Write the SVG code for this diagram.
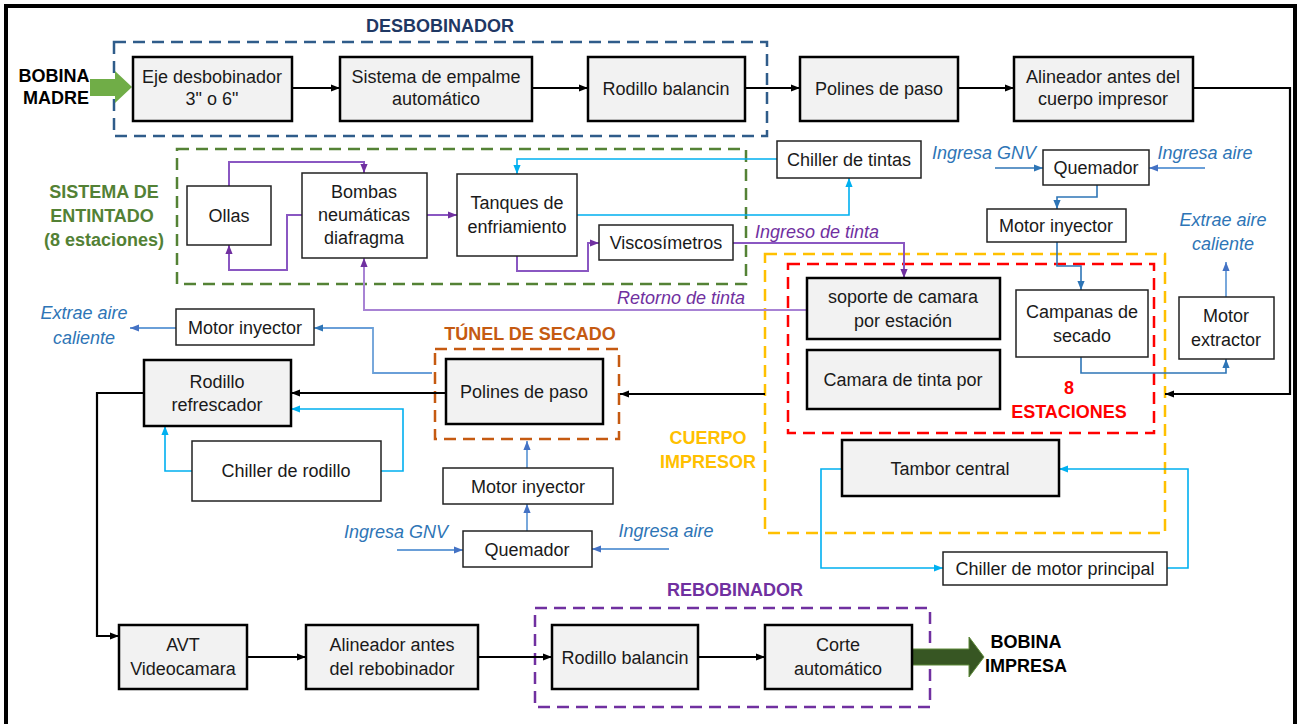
<svg xmlns="http://www.w3.org/2000/svg" width="1309" height="724" viewBox="0 0 1309 724">
<defs>
<style>
.t{font-family:"Liberation Sans",Arial,sans-serif;font-size:18px;fill:#1a1a1a;text-anchor:middle}
.b{font-weight:bold}
.i{font-style:italic}
.g{fill:#F2F2F2;stroke:#000;stroke-width:2.5}
.w{fill:#fff;stroke:#222;stroke-width:1.5}
.d{fill:none;stroke-width:2.5;stroke-dasharray:12 7}
.k{fill:none;stroke:#000;stroke-width:2.2}
.p{fill:none;stroke:#8A57C2;stroke-width:2}
.c{fill:none;stroke:#00B0F0;stroke-width:1.6}
.u{fill:none;stroke:#2E75B6;stroke-width:1.6}
.lu{fill:none;stroke:#6A9FD8;stroke-width:1.8}
</style>
<marker id="mk" viewBox="0 0 10 10" refX="10" refY="5" markerWidth="9" markerHeight="9" markerUnits="userSpaceOnUse" orient="auto"><path d="M0,1 L10,5 L0,9 z" fill="#000"/></marker>
<marker id="mp" viewBox="0 0 10 10" refX="10" refY="5" markerWidth="9" markerHeight="9" markerUnits="userSpaceOnUse" orient="auto"><path d="M0,1 L10,5 L0,9 z" fill="#7030A0"/></marker>
<marker id="mc" viewBox="0 0 10 10" refX="10" refY="5" markerWidth="9" markerHeight="9" markerUnits="userSpaceOnUse" orient="auto"><path d="M0,1 L10,5 L0,9 z" fill="#00B0F0"/></marker>
<marker id="mu" viewBox="0 0 10 10" refX="10" refY="5" markerWidth="9" markerHeight="9" markerUnits="userSpaceOnUse" orient="auto"><path d="M0,1 L10,5 L0,9 z" fill="#2E75B6"/></marker>
<marker id="ml" viewBox="0 0 10 10" refX="10" refY="5" markerWidth="9" markerHeight="9" markerUnits="userSpaceOnUse" orient="auto"><path d="M0,1 L10,5 L0,9 z" fill="#4472C4"/></marker>
</defs>
<rect x="0" y="0" width="1309" height="724" fill="#fff"/>
<rect x="6" y="6" width="1289" height="730" fill="none" stroke="#000" stroke-width="4"/>

<g id="groups">
<rect class="d" x="114" y="42" width="653" height="94" stroke="#2F5C8A"/>
<text class="t b" x="440" y="32" font-size="19" style="fill:#1F3864">DESBOBINADOR</text>
<rect class="d" x="177" y="149" width="569" height="135" stroke="#548235"/>
<text class="t b" x="104" y="198" style="fill:#538135">SISTEMA DE</text>
<text class="t b" x="102" y="222" style="fill:#538135">ENTINTADO</text>
<text class="t b" x="104" y="246" style="fill:#538135">(8 estaciones)</text>
<rect class="d" x="765" y="254" width="400" height="279" stroke="#FFC000"/>
<text class="t b" x="708" y="444" style="fill:#FFC000">CUERPO</text>
<text class="t b" x="708" y="468" style="fill:#FFC000">IMPRESOR</text>
<rect class="d" x="788" y="264" width="366" height="169" stroke="#FF0000"/>
<text class="t b" x="1069" y="394" style="fill:#FF0000">8</text>
<text class="t b" x="1069" y="418" style="fill:#FF0000">ESTACIONES</text>
<rect class="d" x="435" y="349" width="184" height="90" stroke="#C55A11"/>
<text class="t b" x="530" y="340" style="fill:#C55A11">TÚNEL DE SECADO</text>
<rect class="d" x="535" y="608" width="395" height="99" stroke="#7030A0"/>
<text class="t b" x="735" y="596" style="fill:#7030A0">REBOBINADOR</text>
</g>

<g id="connectors">
<path class="k" d="M292,88 H340" marker-end="url(#mk)"/>
<path class="k" d="M532,88 H588" marker-end="url(#mk)"/>
<path class="k" d="M745,88 H800" marker-end="url(#mk)"/>
<path class="k" d="M958,88 H1014" marker-end="url(#mk)"/>
<path class="k" d="M1193,88 H1290 V394 H1165" marker-end="url(#mk)"/>
<path class="k" d="M765,394 H620" marker-end="url(#mk)"/>
<path class="k" d="M446,393 H291" marker-end="url(#mk)"/>
<path class="k" d="M144,393 H97 V636 H119" marker-end="url(#mk)"/>
<path class="k" d="M247,657 H306" marker-end="url(#mk)"/>
<path class="k" d="M478,657 H552" marker-end="url(#mk)"/>
<path class="k" d="M698,657 H765" marker-end="url(#mk)"/>

<path class="p" d="M229,186 V162 H364 V173" marker-end="url(#mp)"/>
<path class="p" d="M302,215 H287 V270 H229 V245" marker-end="url(#mp)"/>
<path class="p" d="M427,215 H457" marker-end="url(#mp)"/>
<path class="p" d="M517,256 V271 H588 V243 H599" marker-end="url(#mp)"/>
<path class="p" d="M733,243 H904 V278" marker-end="url(#mp)"/>
<path class="p" d="M807,310 H364 V258" marker-end="url(#mp)" style="stroke:#A883D4"/>
<text class="t i" x="817" y="238" style="fill:#7030A0">Ingreso de tinta</text>
<text class="t i" x="681" y="304" style="fill:#7030A0">Retorno de tinta</text>

<path class="c" d="M777,159 H517 V174" marker-end="url(#mc)"/>
<path class="c" d="M577,215 H849 V178" marker-end="url(#mc)"/>
<path class="c" d="M192,471 H165 V426" marker-end="url(#mc)"/>
<path class="c" d="M381,471 H403 V409 H291" marker-end="url(#mc)"/>
<path class="c" d="M842,469 H821 V568 H943" marker-end="url(#mc)"/>
<path class="c" d="M1167,568 H1188 V469 H1059" marker-end="url(#mc)"/>

<path class="u" d="M995,168 H1043" marker-end="url(#mu)"/>
<path class="lu" d="M1205,168 H1149" marker-end="url(#ml)"/>
<path class="u" d="M1097,185 V197 H1057 V209" marker-end="url(#mu)"/>
<path class="u" d="M1057,242 V266 H1081 V290" marker-end="url(#mu)"/>
<path class="u" d="M1081,357 V373 H1226 V359" marker-end="url(#mu)"/>
<path class="lu" d="M1226,297 V262" marker-end="url(#ml)"/>
<path class="lu" d="M432,373 H373 V328 H314" marker-end="url(#mu)"/>
<path class="lu" d="M176,328 H130" marker-end="url(#ml)"/>
<path class="lu" d="M527,468 V441" marker-end="url(#ml)"/>
<path class="lu" d="M527,531 V504" marker-end="url(#ml)"/>
<path class="lu" d="M397,550 H463" marker-end="url(#ml)"/>
<path class="lu" d="M669,549 H592" marker-end="url(#ml)"/>

<text class="t i" x="984" y="159" style="fill:#2E75B6">Ingresa GNV</text>
<text class="t i" x="1205" y="159" style="fill:#2E75B6">Ingresa aire</text>
<text class="t i" x="1223" y="226" style="fill:#2E75B6">Extrae aire</text>
<text class="t i" x="1223" y="250" style="fill:#2E75B6">caliente</text>
<text class="t i" x="84" y="319" style="fill:#2E75B6">Extrae aire</text>
<text class="t i" x="84" y="344" style="fill:#2E75B6">caliente</text>
<text class="t i" x="396" y="538" style="fill:#2E75B6">Ingresa GNV</text>
<text class="t i" x="666" y="537" style="fill:#2E75B6">Ingresa aire</text>
</g>

<g id="bobina-madre">
<polygon points="90,79 115,79 115,71 132,87 115,103 115,96 90,96" fill="#70AD47"/>
<text class="t b" x="54" y="82" style="fill:#000">BOBINA</text>
<text class="t b" x="56" y="104" style="fill:#000">MADRE</text>
</g>
<g id="bobina-impresa">
<polygon points="912,649 969,649 969,637 984,657 969,677 969,665 912,665" fill="#375623" stroke="#5E8A3A" stroke-width="1"/>
<text class="t b" x="1026" y="648" style="fill:#000">BOBINA</text>
<text class="t b" x="1026" y="672" style="fill:#000">IMPRESA</text>
</g>

<g id="eje"><rect class="g" x="133" y="57" width="159" height="64"/><text class="t" x="212" y="83">Eje desbobinador</text><text class="t" x="212" y="105">3" o 6"</text></g>
<g id="empalme"><rect class="g" x="340" y="57" width="192" height="64"/><text class="t" x="436" y="83">Sistema de empalme</text><text class="t" x="436" y="105">automático</text></g>
<g id="rodillo-balancin-top"><rect class="g" x="588" y="57" width="157" height="64"/><text class="t" x="666" y="95">Rodillo balancin</text></g>
<g id="polines-top"><rect class="g" x="800" y="57" width="158" height="64"/><text class="t" x="879" y="95">Polines de paso</text></g>
<g id="alineador-top"><rect class="g" x="1014" y="57" width="179" height="64"/><text class="t" x="1103" y="83">Alineador antes del</text><text class="t" x="1103" y="105">cuerpo impresor</text></g>

<g id="chiller-tintas"><rect class="w" x="777" y="141" width="144" height="37"/><text class="t" x="849" y="166">Chiller de tintas</text></g>
<g id="ollas"><rect class="w" x="187" y="186" width="84" height="59"/><text class="t" x="229" y="222">Ollas</text></g>
<g id="bombas"><rect class="w" x="302" y="173" width="125" height="85"/><text class="t" x="364" y="198">Bombas</text><text class="t" x="364" y="221">neumáticas</text><text class="t" x="364" y="244">diafragma</text></g>
<g id="tanques"><rect class="w" x="457" y="174" width="120" height="82"/><text class="t" x="517" y="209">Tanques de</text><text class="t" x="517" y="233">enfriamiento</text></g>
<g id="viscosimetros"><rect class="w" x="599" y="225" width="134" height="35"/><text class="t" x="666" y="249">Viscosímetros</text></g>

<g id="quemador-top"><rect class="w" x="1043" y="150" width="106" height="35"/><text class="t" x="1096" y="174">Quemador</text></g>
<g id="motor-inyector-top"><rect class="w" x="987" y="209" width="139" height="33"/><text class="t" x="1056" y="232">Motor inyector</text></g>
<g id="campanas"><rect class="w" x="1016" y="290" width="132" height="67"/><text class="t" x="1082" y="318">Campanas de</text><text class="t" x="1082" y="342">secado</text></g>
<g id="motor-extractor"><rect class="w" x="1179" y="297" width="95" height="62"/><text class="t" x="1226" y="322">Motor</text><text class="t" x="1226" y="346">extractor</text></g>
<g id="soporte"><rect class="g" x="807" y="278" width="193" height="61"/><text class="t" x="903" y="303">soporte de camara</text><text class="t" x="903" y="327">por estación</text></g>
<g id="camara"><rect class="g" x="807" y="350" width="193" height="59"/><text class="t" x="903" y="386">Camara de tinta por</text></g>
<g id="tambor"><rect class="g" x="842" y="440" width="217" height="56"/><text class="t" x="950" y="475">Tambor central</text></g>
<g id="chiller-motor"><rect class="w" x="943" y="552" width="224" height="33"/><text class="t" x="1055" y="575">Chiller de motor principal</text></g>

<g id="motor-inyector-left"><rect class="w" x="176" y="309" width="138" height="36"/><text class="t" x="245" y="334">Motor inyector</text></g>
<g id="rodillo-refrescador"><rect class="g" x="144" y="360" width="147" height="66"/><text class="t" x="217" y="388">Rodillo</text><text class="t" x="217" y="411">refrescador</text></g>
<g id="chiller-rodillo"><rect class="w" x="192" y="441" width="189" height="60"/><text class="t" x="286" y="477">Chiller de rodillo</text></g>
<g id="polines-tunel"><rect class="g" x="446" y="359" width="157" height="65"/><text class="t" x="524" y="398">Polines de paso</text></g>
<g id="motor-inyector-mid"><rect class="w" x="443" y="468" width="170" height="36"/><text class="t" x="528" y="493">Motor inyector</text></g>
<g id="quemador-mid"><rect class="w" x="463" y="531" width="129" height="36"/><text class="t" x="527" y="556">Quemador</text></g>

<g id="avt"><rect class="g" x="119" y="625" width="128" height="64"/><text class="t" x="183" y="651">AVT</text><text class="t" x="183" y="675">Videocamara</text></g>
<g id="alineador-reb"><rect class="g" x="306" y="625" width="172" height="64"/><text class="t" x="392" y="651">Alineador antes</text><text class="t" x="392" y="675">del rebobinador</text></g>
<g id="rodillo-balancin-bot"><rect class="g" x="552" y="625" width="146" height="64"/><text class="t" x="625" y="664">Rodillo balancin</text></g>
<g id="corte"><rect class="g" x="765" y="625" width="147" height="64"/><text class="t" x="838" y="651">Corte</text><text class="t" x="838" y="675">automático</text></g>
</svg>
